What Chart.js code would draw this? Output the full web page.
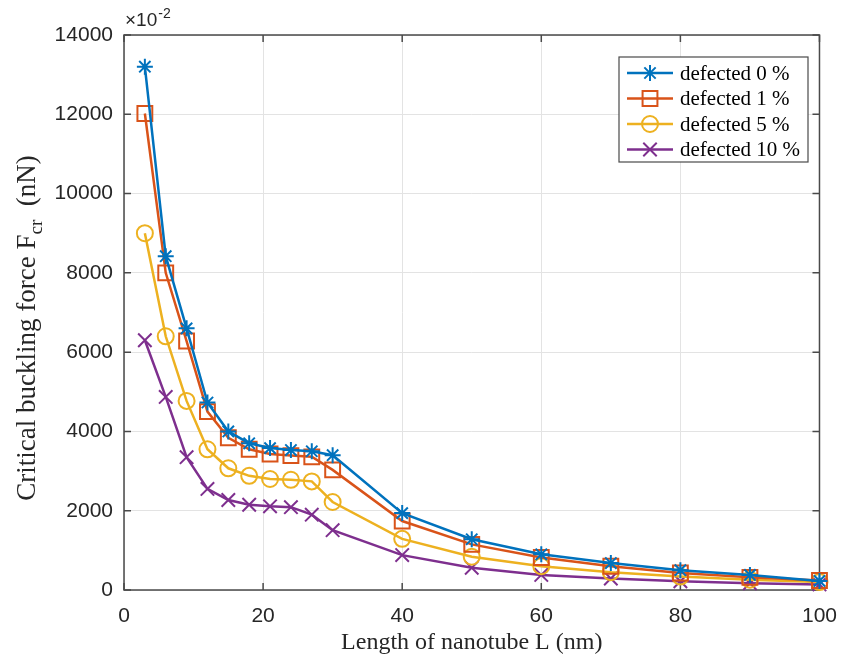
<!DOCTYPE html>
<html>
<head>
<meta charset="utf-8">
<script src="https://cdn.jsdelivr.net/npm/chart.js@4/dist/chart.umd.min.js"></script>
<style>
  body { margin: 0; background: #fff; }
  #wrap { width: 851px; height: 663px; }
</style>
</head>
<body>
<div id="wrap"><canvas id="buckling" width="851" height="663"></canvas></div>
<script>
// lengths of nanotube (nm)
const lengths = [3, 6, 9, 12, 15, 18, 21, 24, 27, 30, 40, 50, 60, 70, 80, 90, 100];

// critical buckling force (x10^-2 nN)
const defected0 = [13200, 8420, 6600, 4730, 4000, 3700, 3580, 3530, 3500, 3400, 1940, 1280, 900, 680, 500, 380, 230];
const defected1 = [12020, 8000, 6280, 4500, 3840, 3550, 3430, 3390, 3360, 3030, 1740, 1150, 820, 600, 430, 320, 240];
const defected5 = [9000, 6400, 4770, 3550, 3070, 2880, 2800, 2780, 2740, 2220, 1290, 840, 600, 450, 340, 260, 200];
const defected10 = [6300, 4870, 3350, 2550, 2270, 2150, 2110, 2090, 1900, 1510, 880, 560, 380, 290, 220, 170, 140];

const xTicks = [0, 20, 40, 60, 80, 100];
const yTicks = [0, 2000, 4000, 6000, 8000, 10000, 12000, 14000];

const seriesLabels = ['defected 0 %', 'defected 1 %', 'defected 5 %', 'defected 10 %'];
const colors = ['#0072BD', '#D95319', '#EDB120', '#7E2F8E'];

function toPoints(ys) {
    return lengths.map((x, i) => ({ x: x, y: ys[i] }));
}

const serif = '"Liberation Serif", "Times New Roman", serif';
const sans = '"Liberation Sans", Arial, Helvetica, sans-serif';

const styles = [
    { pointStyle: 'star', radius: 8 },
    { pointStyle: 'rect', radius: 10.5 },
    { pointStyle: 'circle', radius: 8 },
    { pointStyle: 'crossRot', radius: 9.5 }
];

const allSeries = [defected0, defected1, defected5, defected10];

const datasets = allSeries.map((ys, i) => ({
    label: seriesLabels[i],
    data: toPoints(ys),
    borderColor: colors[i],
    backgroundColor: 'rgba(0,0,0,0)',
    pointBorderColor: colors[i],
    pointBackgroundColor: 'rgba(0,0,0,0)',
    borderWidth: 2.5,
    pointBorderWidth: 2,
    pointStyle: styles[i].pointStyle,
    pointRadius: styles[i].radius,
    pointHoverRadius: styles[i].radius,
    tension: 0,
    clip: false
}));

function drawPointSafe(ctx, style, r, color, x, y) {
    ctx.save();
    ctx.strokeStyle = color;
    ctx.fillStyle = 'rgba(0,0,0,0)';
    ctx.lineWidth = 2;
    if (Chart.helpers && Chart.helpers.drawPoint) {
        Chart.helpers.drawPoint(ctx, { pointStyle: style, radius: r, rotation: 0, borderWidth: 2 }, x, y);
    }
    ctx.restore();
}

const matlabAxes = {
    id: 'matlabAxes',
    beforeDatasetsDraw(chart) {
        const { ctx, chartArea: a, scales } = chart;
        ctx.save();
        ctx.strokeStyle = '#4a4a4a';
        ctx.lineWidth = 1.5;
        ctx.strokeRect(a.left, a.top, a.right - a.left, a.bottom - a.top);
        const tl = 7;
        ctx.beginPath();
        xTicks.forEach(v => {
            const px = scales.x.getPixelForValue(v);
            ctx.moveTo(px, a.bottom); ctx.lineTo(px, a.bottom - tl);
            ctx.moveTo(px, a.top); ctx.lineTo(px, a.top + tl);
        });
        yTicks.forEach(v => {
            const py = scales.y.getPixelForValue(v);
            ctx.moveTo(a.left, py); ctx.lineTo(a.left + tl, py);
            ctx.moveTo(a.right, py); ctx.lineTo(a.right - tl, py);
        });
        ctx.stroke();
        ctx.restore();
    },
    afterDraw(chart) {
        const { ctx, chartArea: a } = chart;
        ctx.save();
        ctx.fillStyle = '#262626';

        // x axis title
        ctx.font = '24px ' + serif;
        ctx.textAlign = 'center';
        ctx.textBaseline = 'alphabetic';
        ctx.fillText('Length of nanotube L (nm)', (a.left + a.right) / 2, 649);

        // y axis title with subscript
        ctx.save();
        ctx.translate(35, 328);
        ctx.rotate(-Math.PI / 2);
        const partA = 'Critical buckling force F';
        const partB = 'cr';
        const partC = '  (nN)';
        ctx.font = '27px ' + serif;
        const wA = ctx.measureText(partA).width;
        const wC = ctx.measureText(partC).width;
        ctx.font = '19px ' + serif;
        const wB = ctx.measureText(partB).width;
        let sx = -(wA + wB + wC) / 2;
        ctx.textAlign = 'left';
        ctx.font = '27px ' + serif;
        ctx.fillText(partA, sx, 0);
        ctx.font = '19px ' + serif;
        ctx.fillText(partB, sx + wA, 7);
        ctx.font = '27px ' + serif;
        ctx.fillText(partC, sx + wA + wB, 0);
        ctx.restore();

        // exponent label
        ctx.font = '19px ' + sans;
        ctx.textAlign = 'left';
        ctx.fillText('\u00d710', a.left + 1, 26);
        const wx = ctx.measureText('\u00d710').width;
        ctx.font = '14px ' + sans;
        ctx.fillText('-2', a.left + 1 + wx + 1, 18);

        // legend
        const lx = 619, ly = 57, lw = 189, lh = 105;
        ctx.fillStyle = '#fff';
        ctx.fillRect(lx, ly, lw, lh);
        ctx.strokeStyle = '#4a4a4a';
        ctx.lineWidth = 1.2;
        ctx.strokeRect(lx, ly, lw, lh);
        ctx.font = '21px ' + serif;
        ctx.textBaseline = 'middle';
        seriesLabels.forEach((lab, i) => {
            const cy = ly + 16 + i * 25.5;
            ctx.strokeStyle = colors[i];
            ctx.lineWidth = 2.5;
            ctx.beginPath();
            ctx.moveTo(lx + 8, cy);
            ctx.lineTo(lx + 54, cy);
            ctx.stroke();
            drawPointSafe(ctx, styles[i].pointStyle, styles[i].radius, colors[i], lx + 31, cy);
            ctx.fillStyle = '#000';
            ctx.fillText(lab, lx + 61, cy + 1);
        });
        ctx.restore();
    }
};

new Chart(document.getElementById('buckling').getContext('2d'), {
    type: 'line',
    data: { datasets: datasets },
    options: {
        responsive: false,
        animation: false,
        layout: { padding: { left: 0, top: 35, right: 12, bottom: 0 } },
        plugins: {
            legend: { display: false },
            tooltip: { enabled: false }
        },
        scales: {
            x: {
                type: 'linear',
                min: 0,
                max: 100,
                afterFit(scale) { scale.height = 73; },
                afterBuildTicks(scale) { scale.ticks = xTicks.map(v => ({ value: v })); },
                grid: { color: '#e3e3e3', lineWidth: 1, drawTicks: false },
                border: { display: false },
                ticks: { color: '#262626', padding: 14, font: { family: sans, size: 21 }, maxRotation: 0 }
            },
            y: {
                type: 'linear',
                min: 0,
                max: 14000,
                afterFit(scale) { scale.width = 124; },
                afterBuildTicks(scale) { scale.ticks = yTicks.map(v => ({ value: v })); },
                grid: { color: '#e3e3e3', lineWidth: 1, drawTicks: false },
                border: { display: false },
                ticks: { color: '#262626', padding: 11, font: { family: sans, size: 21 }, callback: v => String(v) }
            }
        }
    },
    plugins: [matlabAxes]
});
</script>
</body>
</html>
